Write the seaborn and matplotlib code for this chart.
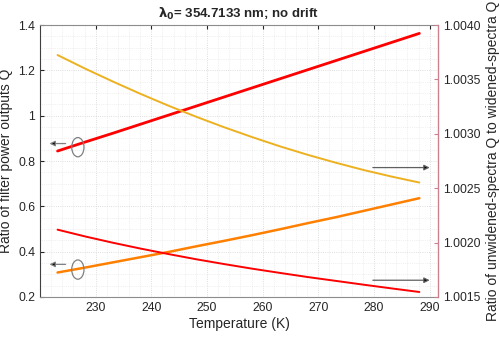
import numpy as np
import pandas as pd
import matplotlib
matplotlib.use("Agg")
import matplotlib.pyplot as plt
import seaborn as sns
from matplotlib.patches import Ellipse
from matplotlib.ticker import MultipleLocator

# temperatures (K)
temps = [223.15, 228.15, 233.15, 238.15, 243.15, 248.15, 253.15, 258.15,
         263.15, 268.15, 273.15, 278.15, 283.15, 288.15]

# left axis: ratio of filter power outputs Q
q_red = [0.844, 0.884, 0.923, 0.963, 1.003, 1.043, 1.083, 1.123,
         1.163, 1.203, 1.243, 1.283, 1.323, 1.363]
q_orange = [0.308, 0.330, 0.353, 0.376, 0.399, 0.424, 0.448, 0.473,
            0.499, 0.526, 0.552, 0.580, 0.608, 0.636]

# right axis: ratio of unwidened-spectra Q to widened-spectra Q
r_yellow = [1.003724, 1.003598, 1.003479, 1.003365, 1.003257, 1.003155, 1.003059,
            1.002969, 1.002884, 1.002806, 1.002734, 1.002667, 1.002607, 1.002552]
r_red = [1.002119, 1.002056, 1.001998, 1.001944, 1.001894, 1.001846, 1.001802,
         1.001760, 1.001721, 1.001683, 1.001648, 1.001613, 1.001579, 1.001546]

df = pd.DataFrame({"T": temps, "q_red": q_red, "q_orange": q_orange,
                   "r_yellow": r_yellow, "r_red": r_red})

sns.set_style("white")
plt.rcParams['font.family'] = ['Liberation Sans', 'DejaVu Sans']

fig = plt.figure(figsize=(5, 3.37), dpi=100)
ax = fig.add_axes([0.08, 0.1187, 0.796, 0.8071])
ax2 = ax.twinx()

sns.lineplot(data=df, x="T", y="r_yellow", ax=ax2, color="#EDB120", lw=1.4)
sns.lineplot(data=df, x="T", y="r_red", ax=ax2, color="#FF0000", lw=1.4)
sns.lineplot(data=df, x="T", y="q_orange", ax=ax, color="#FF8000", lw=1.8)
sns.lineplot(data=df, x="T", y="q_red", ax=ax, color="#FF0000", lw=2.0)

ax.set_xlim(220, 291.5)
ax.set_ylim(0.2, 1.4)
ax2.set_ylim(1.0015, 1.0040)
ax.set_xticks([230, 240, 250, 260, 270, 280, 290])
ax.set_yticks([0.2, 0.4, 0.6, 0.8, 1.0, 1.2, 1.4])
ax.set_yticklabels(["0.2", "0.4", "0.6", "0.8", "1", "1.2", "1.4"])
ax2.set_yticks([1.0015, 1.0020, 1.0025, 1.0030, 1.0035, 1.0040])
ax2.set_yticklabels(["1.0015", "1.0020", "1.0025", "1.0030", "1.0035", "1.0040"])

ax.xaxis.set_minor_locator(MultipleLocator(2))
ax.yaxis.set_minor_locator(MultipleLocator(0.05))
ax.grid(True, which="major", color="#d4d4d4", lw=0.6, ls=":")
ax.grid(True, which="minor", color="#e3e3e3", lw=0.5, ls=":")
ax.set_axisbelow(True)

ax.tick_params(axis="both", which="major", direction="in", length=3,
               labelsize=8.8, colors="#262626", top=True)
ax.tick_params(axis="both", which="minor", length=0)
ax2.tick_params(axis="y", direction="in", length=3, labelsize=8.8,
                colors="#cc7f8c", labelcolor="#262626")

for s in ["top", "bottom", "left"]:
    ax.spines[s].set_color("#8c8c8c")
    ax.spines[s].set_linewidth(0.8)
ax.spines["left"].set_color("#404040")
ax2.spines["right"].set_color("#cc7f8c")
ax2.spines["right"].set_linewidth(0.8)
for s in ["top", "bottom", "left"]:
    ax2.spines[s].set_visible(False)

ax.set_xlabel("Temperature (K)", fontsize=10, color="#262626", labelpad=2)
ax.set_ylabel("Ratio of filter power outputs Q", fontsize=10, color="#262626", labelpad=4)
ax2.set_ylabel("Ratio of unwidened-spectra Q to widened-spectra Q", fontsize=10,
               color="#262626", labelpad=4)
ax.set_title(r"$\mathbf{\lambda_0}$= 354.7133 nm; no drift", fontsize=9.5,
             fontweight="bold", pad=5)

# ellipses and arrows pointing to the axes
for cy, ay in [(0.861, 0.877), (0.321, 0.344)]:
    ax.add_patch(Ellipse((226.8, cy), 2.2, 0.085, fill=False, ec="#808080", lw=0.9, zorder=5))
    ax.annotate("", xy=(221.2, ay), xytext=(225.1, ay),
                arrowprops=dict(arrowstyle="-|>", color="#808080", lw=0.9,
                                mutation_scale=8, fc="black", ec="#808080"))
for ay in [0.771, 0.274]:
    ax.annotate("", xy=(290.5, ay), xytext=(279.3, ay),
                arrowprops=dict(arrowstyle="-|>", color="#606060", lw=0.9,
                                mutation_scale=8, fc="black", ec="#606060"),
                annotation_clip=False)

fig.savefig("out.png", dpi=100)
